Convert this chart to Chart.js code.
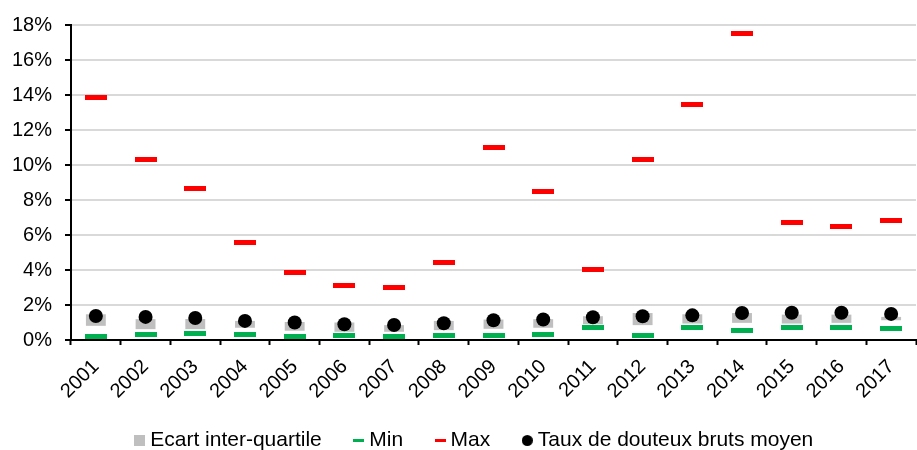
<!DOCTYPE html>
<html>
<head>
<meta charset="utf-8">
<script src="https://cdn.jsdelivr.net/npm/chart.js@4/dist/chart.umd.min.js"></script>
<style>
  html, body { margin: 0; padding: 0; background: #fff; overflow: hidden; }
  #wrap { width: 917px; height: 450px; overflow: hidden; position: relative; }
  #box { width: 923px; height: 450px; }
</style>
</head>
<body>
<div id="wrap"><div id="box"><canvas id="c"></canvas></div></div>
<script>
// Years on the category axis
const years = ['2001','2002','2003','2004','2005','2006','2007','2008','2009',
               '2010','2011','2012','2013','2014','2015','2016','2017'];

// Interquartile range (first and third quartile), in %
const q1Vals = [0.81, 0.62, 0.62, 0.70, 0.53, 0.47, 0.47, 0.56, 0.64,
                0.70, 0.90, 0.85, 0.94, 0.98, 0.94, 0.98, 1.13];
const q3Vals = [1.47, 1.19, 1.20, 1.09, 1.03, 1.00, 0.85, 1.09, 1.17,
                1.19, 1.36, 1.54, 1.47, 1.54, 1.45, 1.45, 1.32];

// Minimum and maximum rates, in %
const minVals = [0.20, 0.32, 0.38, 0.32, 0.20, 0.26, 0.20, 0.26, 0.26,
                 0.32, 0.72, 0.26, 0.72, 0.55, 0.72, 0.72, 0.66];
const maxVals = [13.85, 10.32, 8.66, 5.58, 3.87, 3.13, 3.02, 4.42, 10.98,
                 8.49, 4.02, 10.30, 13.47, 17.51, 6.74, 6.47, 6.85];

// Average gross doubtful-loan rate, in %
const meanVals = [1.37, 1.32, 1.26, 1.09, 1.00, 0.90, 0.86, 0.96, 1.13,
                  1.17, 1.30, 1.36, 1.41, 1.54, 1.56, 1.56, 1.49];

const yTicks = [0, 2, 4, 6, 8, 10, 12, 14, 16, 18];

const GRAY = '#bfbfbf', GREEN = '#00b050', RED = '#ff0000', BLACK = '#000000';

// Small canvases used as marker glyphs
function dash(w, h, color) {
  const c = document.createElement('canvas');
  c.width = w; c.height = h;
  const g = c.getContext('2d');
  g.fillStyle = color; g.fillRect(0, 0, w, h);
  return c;
}
function disc(d, color) {
  const c = document.createElement('canvas');
  c.width = d; c.height = d;
  const g = c.getContext('2d');
  g.fillStyle = color; g.beginPath(); g.arc(d / 2, d / 2, d / 2, 0, Math.PI * 2); g.fill();
  return c;
}

const legendGlyphs = [dash(11, 11, GRAY), dash(11, 3, GREEN), dash(11, 3, RED), disc(11, BLACK)];

Chart.defaults.font.family = "'Liberation Sans', Arial, sans-serif";
Chart.defaults.color = '#000';

// Nudge the legend block into place and let the slanted year labels
// extend below the reserved axis band
const layoutTweaks = {
  id: 'layoutTweaks',
  afterLayout(chart) {
    const lg = chart.legend;
    if (lg) {
      lg.left += 15; lg.right += 15;
      lg.top += 11; lg.bottom += 11;
    }
    chart.scales.x.bottom = chart.height;
  }
};

new Chart(document.getElementById('c'), {
  type: 'bar',
  data: {
    labels: years,
    datasets: [
      {
        type: 'bar',
        label: 'Ecart inter-quartile',
        data: q1Vals.map((v, i) => [v, q3Vals[i]]),
        backgroundColor: GRAY,
        borderWidth: 0,
        barPercentage: 0.4,
        categoryPercentage: 1,
        order: 3
      },
      {
        type: 'line',
        label: 'Min',
        data: minVals,
        showLine: false,
        pointStyle: dash(22, 5, GREEN),
        pointRadius: 3,
        order: 2
      },
      {
        type: 'line',
        label: 'Max',
        data: maxVals,
        showLine: false,
        pointStyle: dash(22, 5, RED),
        pointRadius: 3,
        order: 1
      },
      {
        type: 'line',
        label: 'Taux de douteux bruts moyen',
        data: meanVals,
        showLine: false,
        pointStyle: 'circle',
        pointRadius: 7,
        pointBackgroundColor: BLACK,
        pointBorderWidth: 0,
        order: 0
      }
    ]
  },
  options: {
    responsive: true,
    maintainAspectRatio: false,
    animation: false,
    events: [],
    layout: { padding: { top: 21, left: 0, right: 0, bottom: 0 } },
    plugins: {
      tooltip: { enabled: false },
      legend: {
        position: 'bottom',
        labels: {
          usePointStyle: true,
          pointStyleWidth: 0.001,
          padding: 37,
          color: '#000',
          font: { size: 21 },
          generateLabels(chart) {
            return chart.data.datasets.map((ds, i) => ({
              text: ds.label,
              pointStyle: legendGlyphs[i],
              fillStyle: 'transparent',
              strokeStyle: 'transparent',
              lineWidth: 0,
              hidden: false,
              datasetIndex: i
            }));
          }
        }
      }
    },
    scales: {
      x: {
        offset: true,
        grid: {
          display: true,
          drawOnChartArea: false,
          drawTicks: true,
          tickLength: 5,
          tickWidth: 2,
          tickColor: BLACK,
          offset: true
        },
        border: { color: BLACK, width: 2 },
        ticks: {
          minRotation: 45,
          maxRotation: 45,
          color: BLACK,
          font: { size: 20 },
          padding: 10
        },
        afterFit(scale) { scale.height = 42; }
      },
      y: {
        min: 0,
        max: 18,
        afterBuildTicks(scale) { scale.ticks = yTicks.map(v => ({ value: v })); },
        ticks: {
          callback: v => v + '%',
          padding: 13,
          color: BLACK,
          font: { size: 20 }
        },
        grid: {
          color: '#d9d9d9',
          lineWidth: 2,
          tickColor: BLACK,
          tickLength: 6,
          tickWidth: 2
        },
        border: { color: BLACK, width: 2 },
        afterFit(scale) { scale.width = 71; }
      }
    }
  },
  plugins: [layoutTweaks]
});
</script>
</body>
</html>
